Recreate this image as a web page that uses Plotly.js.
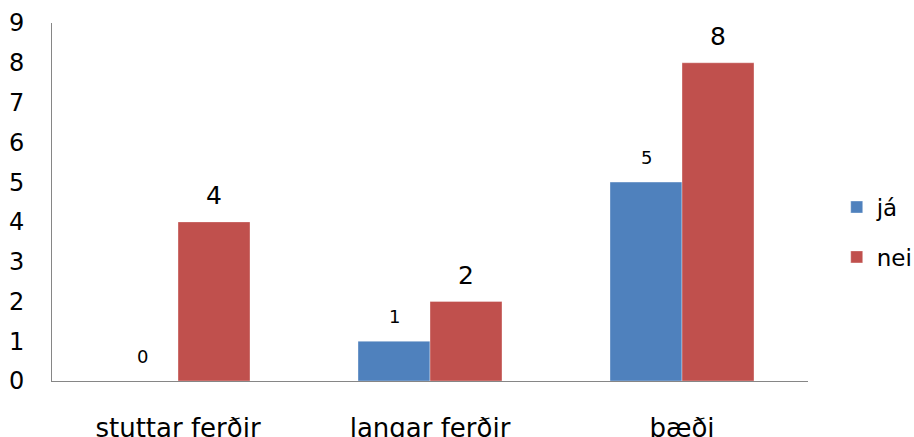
<!DOCTYPE html>
<html>
<head>
<meta charset="utf-8">
<script src="https://cdn.plot.ly/plotly-3.0.1.min.js"></script>
<style>html,body{margin:0;padding:0;background:#fff;}#chart{width:914px;height:437px;}</style>
</head>
<body>
<div id="chart"></div>
<script>
const categories = ["stuttar ferðir", "langar ferðir", "bæði"];
const seriesNames = ["já", "nei"];
const jaValues = [0, 1, 5];
const neiValues = [4, 2, 8];
const yTicks = [0, 1, 2, 3, 4, 5, 6, 7, 8, 9];

const FONT = "DejaVu Sans, Verdana, sans-serif";
const BLUE = "#4F81BD";
const RED = "#C0504D";

const traces = [
  {type: "bar", name: seriesNames[0], x: categories, y: jaValues, legendgroup: "a",
   marker: {color: BLUE, line: {color: "rgba(255,255,255,0.35)", width: 1}}, hoverinfo: "skip"},
  {type: "bar", name: seriesNames[1], x: categories, y: neiValues, legendgroup: "b",
   marker: {color: RED, line: {color: "rgba(255,255,255,0.35)", width: 1}}, hoverinfo: "skip"}
];

const annotations = [];
categories.forEach((c, i) => {
  annotations.push({x: c, y: jaValues[i], xref: "x", yref: "y", text: String(jaValues[i]),
    showarrow: false, xshift: -36, yshift: 25, yanchor: "middle",
    font: {family: FONT, size: 18, color: "#000"}});
  annotations.push({x: c, y: neiValues[i], xref: "x", yref: "y", text: String(neiValues[i]),
    showarrow: false, xshift: 36, yshift: 26, yanchor: "middle",
    font: {family: FONT, size: 25, color: "#000"}});
});

const layout = {
  width: 914, height: 437,
  margin: {l: 52, r: 106, t: 23, b: 56, autoexpand: false},
  paper_bgcolor: "#fff", plot_bgcolor: "#fff",
  font: {family: FONT, color: "#000"},
  barmode: "group", bargap: 0.4286, bargroupgap: 0,
  showlegend: true,
  legend: {x: 1.038, xanchor: "left", y: 0.416, yanchor: "middle",
    font: {family: FONT, size: 23, color: "#000"}, tracegroupgap: 17,
    bgcolor: "rgba(0,0,0,0)"},
  xaxis: {type: "category", showline: true, linecolor: "#868686", linewidth: 1,
    showgrid: false, zeroline: false, ticks: "", ticklabelstandoff: 24,
    tickfont: {family: FONT, size: 26, color: "#000"}, fixedrange: true},
  yaxis: {range: [0, 9], tickvals: yTicks, ticktext: yTicks.map(String), showline: true,
    linecolor: "#868686", linewidth: 1, showgrid: false, zeroline: false, ticks: "",
    ticklabelstandoff: 22, tickfont: {family: FONT, size: 24, color: "#000"}, fixedrange: true},
  annotations: annotations
};

Plotly.newPlot("chart", traces, layout, {displayModeBar: false, staticPlot: true});
</script>
</body>
</html>
